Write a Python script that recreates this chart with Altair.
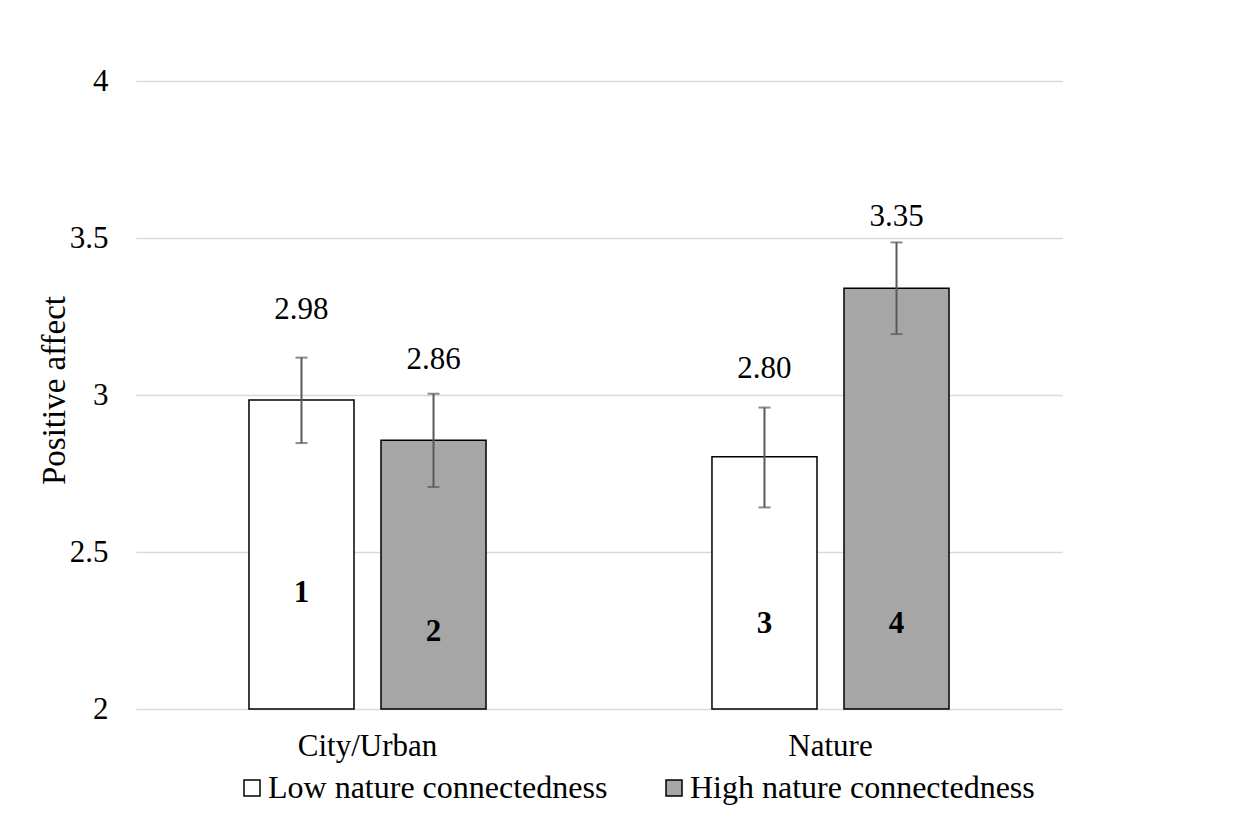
import altair as alt
import pandas as pd

categories = ["City/Urban", "City/Urban", "Nature", "Nature"]
groups = ["Low nature connectedness", "High nature connectedness",
          "Low nature connectedness", "High nature connectedness"]
means = [2.984, 2.856, 2.803, 3.340]
err_low = [2.847, 2.707, 2.642, 3.194]
err_high = [3.119, 3.004, 2.960, 3.486]
value_labels = ["2.98", "2.86", "2.80", "3.35"]
value_label_y = [3.27, 3.11, 3.083, 3.568]
bar_ids = ["1", "2", "3", "4"]
bar_id_y = [2.368, 2.245, 2.272, 2.272]

cat_order = ["City/Urban", "Nature"]
grp_order = ["Low nature connectedness", "High nature connectedness"]
y_ticks = [2, 2.5, 3, 3.5, 4]

df = pd.DataFrame({
    "category": categories, "group": groups, "mean": means,
    "lo": err_low, "hi": err_high, "vlabel": value_labels,
    "vy": value_label_y, "bid": bar_ids, "by": bar_id_y,
})

FONT = "Liberation Serif"

x = alt.X("category:N", sort=cat_order, title=None,
          scale=alt.Scale(paddingInner=0.488, paddingOuter=0.244),
          axis=alt.Axis(labelAngle=0, domain=False, ticks=False, labelPadding=22,
                        labelFontSize=31, labelFont=FONT, labelColor="black", grid=False))
xo = alt.XOffset("group:N", sort=grp_order,
                 scale=alt.Scale(paddingInner=0.2045, paddingOuter=0))
yscale = alt.Scale(domain=[2, 4], nice=False, zero=False)

base = alt.Chart(df)

bars = base.mark_bar(stroke="black", strokeWidth=1.5).encode(
    x=x, xOffset=xo,
    y=alt.Y("mean:Q", scale=yscale, title="Positive affect",
            axis=alt.Axis(values=y_ticks, format="~g", domain=False, ticks=False,
                          labelPadding=28, labelFontSize=31, labelFont=FONT,
                          labelColor="black", gridColor="#D9D9D9", gridWidth=1.5,
                          titleFont=FONT, titleFontSize=33, titleFontWeight="normal",
                          titleColor="black", titleX=-82, titleY=309,
                          titleAngle=270, titleAlign="center", titleBaseline="middle")),
    y2=alt.datum(2),
    color=alt.Color("group:N", scale=alt.Scale(domain=grp_order, range=["#FFFFFF", "#A6A6A6"]),
                    title=None,
                    legend=alt.Legend(orient="none", legendX=100, legendY=691,
                                      direction="horizontal", symbolType="square",
                                      symbolSize=256, symbolStrokeColor="black",
                                      symbolStrokeWidth=1.5, symbolOpacity=1,
                                      labelFont=FONT, labelFontSize=32, labelColor="black",
                                      labelLimit=600, labelOffset=0, columnPadding=50,
                                      padding=0)),
)

rules = base.mark_rule(color="#595959", strokeWidth=2).encode(
    x=x, xOffset=xo, y=alt.Y("lo:Q", scale=yscale), y2="hi:Q")
cap_lo = base.mark_tick(color="#595959", thickness=2, size=12).encode(
    x=x, xOffset=xo, y=alt.Y("lo:Q", scale=yscale))
cap_hi = base.mark_tick(color="#595959", thickness=2, size=12).encode(
    x=x, xOffset=xo, y=alt.Y("hi:Q", scale=yscale))

vtext = base.mark_text(font=FONT, fontSize=31, color="black", baseline="middle").encode(
    x=x, xOffset=xo, y=alt.Y("vy:Q", scale=yscale), text="vlabel:N")
btext = base.mark_text(font=FONT, fontSize=31, fontWeight="bold", color="black",
                       baseline="middle").encode(
    x=x, xOffset=xo, y=alt.Y("by:Q", scale=yscale), text="bid:N")

chart = alt.layer(bars, rules, cap_lo, cap_hi, vtext, btext).properties(
    width=926, height=628,
    background="white",
    autosize=alt.AutoSizeParams(type="none"),
    padding={"left": 128, "top": 73, "right": 170, "bottom": 96},
).configure(font=FONT).configure_view(strokeWidth=0, stroke="transparent")

chart.save("out.html", embed_options={"renderer": "svg", "actions": False})
